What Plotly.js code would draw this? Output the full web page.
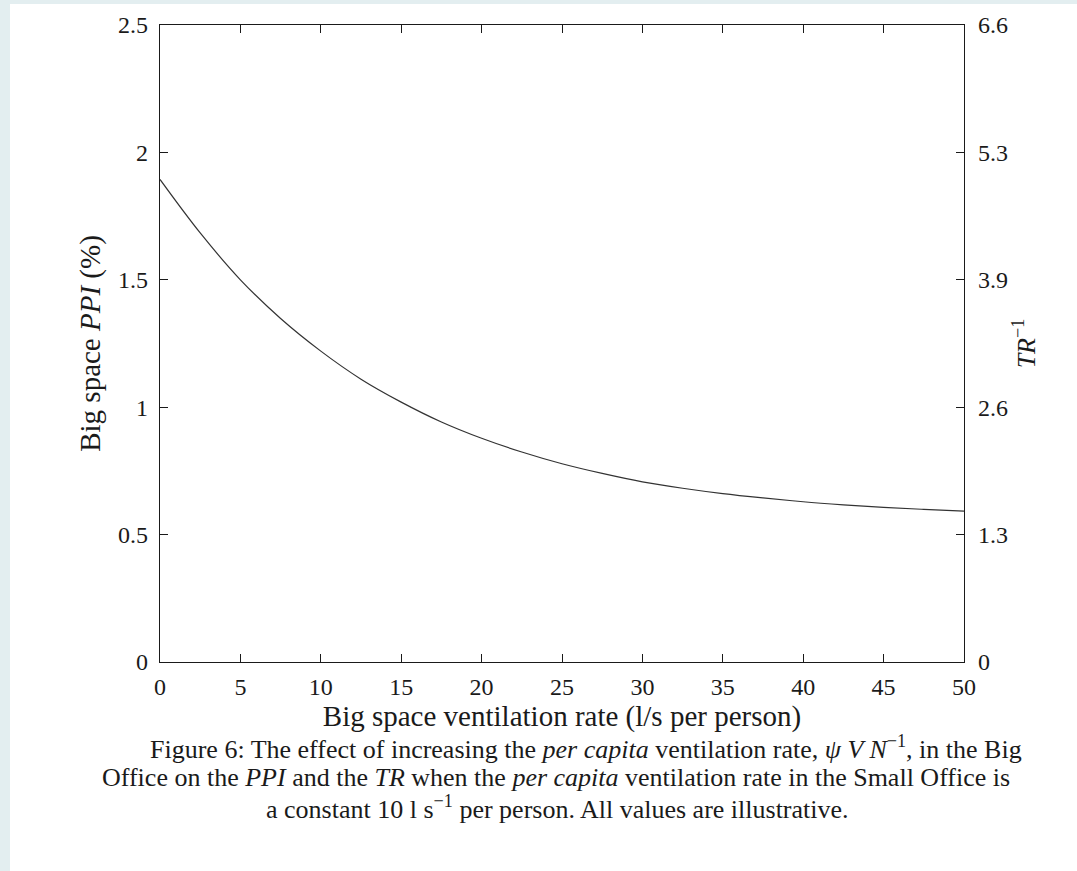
<!DOCTYPE html>
<html>
<head>
<meta charset="utf-8">
<script src="https://cdn.plot.ly/plotly-3.0.1.min.js"></script>
<style>
  html, body { margin: 0; padding: 0; background: #e3eef0; width: 1077px; height: 871px; overflow: hidden; }
  #plot { position: absolute; left: 10px; top: 4px; width: 1067px; height: 867px; background: #ffffff; }
</style>
</head>
<body>
<div id="plot"></div>
<script>
// Big-office ventilation rate (l/s per person)
const ventilation = [0, 2.5, 5, 7.5, 10, 12.5, 15, 17.5, 20, 22.5, 25, 27.5, 30, 32.5, 35, 37.5, 40, 42.5, 45, 47.5, 50];
// Big-space PPI (%)
const ppi = [1.894, 1.684, 1.500, 1.348, 1.220, 1.110, 1.020, 0.942, 0.878, 0.824, 0.778, 0.740, 0.707, 0.682, 0.661, 0.644, 0.629, 0.617, 0.607, 0.599, 0.592];

const xTicks = [0, 5, 10, 15, 20, 25, 30, 35, 40, 45, 50];
const ppiTicks = [0, 0.5, 1, 1.5, 2, 2.5];
// TR^-1 scale on the right: six equal divisions of 0–6.6
const trTickVals = [0, 1.32, 2.64, 3.96, 5.28, 6.6];
const trTickText = ['0', '1.3', '2.6', '3.9', '5.3', '6.6'];

const captionLines = [
  'Figure 6: The effect of increasing the <i>per capita</i> ventilation rate, <i>ψ V N</i><sup>−1</sup>, in the Big',
  'Office on the <i>PPI</i> and the <i>TR</i> when the <i>per capita</i> ventilation rate in the Small Office is',
  'a constant 10 l s<sup>−1</sup> per person. All values are illustrative.'
];

const serif = 'Liberation Serif, DejaVu Serif, serif';
const ink = '#1a1a1a';

const traces = [
  {
    x: ventilation,
    y: ppi,
    type: 'scatter',
    mode: 'lines',
    line: { color: '#333333', width: 1.2, shape: 'spline', smoothing: 1 },
    hoverinfo: 'x+y',
    showlegend: false
  },
  {
    // carries the right-hand TR^-1 axis; nothing plotted
    x: ventilation,
    y: ventilation.map(() => null),
    yaxis: 'y2',
    type: 'scatter',
    mode: 'lines',
    hoverinfo: 'skip',
    showlegend: false
  }
];

const axisBase = {
  ticks: 'inside',
  ticklen: 8,
  tickwidth: 1,
  tickcolor: ink,
  showline: true,
  linecolor: ink,
  linewidth: 1.2,
  showgrid: false,
  zeroline: false,
  tickfont: { family: serif, size: 24, color: ink }
};

// caption line centres, in plot-paper coordinates
const capX = [0.530, 0.4925, 0.495];
const capY = [-0.135, -0.182, -0.229];

const layout = {
  width: 1067,
  height: 867,
  paper_bgcolor: '#ffffff',
  plot_bgcolor: '#ffffff',
  margin: { l: 150, r: 113, t: 21, b: 209 },
  font: { family: serif, size: 24, color: ink },
  showlegend: false,
  xaxis: Object.assign({}, axisBase, {
    range: [0, 50],
    tickvals: xTicks,
    mirror: 'ticks',
    ticklabelstandoff: 3,
    title: { text: 'Big space ventilation rate (l/s per person)', font: { family: serif, size: 29, color: ink }, standoff: 6 }
  }),
  yaxis: Object.assign({}, axisBase, {
    range: [0, 2.5],
    tickvals: ppiTicks,
    ticklabelstandoff: 6,
    title: { text: 'Big space <i>PPI</i> (%)', font: { family: serif, size: 29, color: ink }, standoff: 8 }
  }),
  yaxis2: Object.assign({}, axisBase, {
    overlaying: 'y',
    side: 'right',
    range: [0, 6.6],
    tickvals: trTickVals,
    ticktext: trTickText,
    ticklabelstandoff: 8,
    title: { text: '<i>TR</i><sup>−1</sup>', font: { family: serif, size: 26, color: ink }, standoff: 9 }
  }),
  annotations: captionLines.map((t, i) => ({
    xref: 'paper', yref: 'paper',
    x: capX[i], y: capY[i],
    xanchor: 'center', yanchor: 'middle',
    showarrow: false,
    text: t,
    font: { family: serif, size: 26, color: ink }
  }))
};

Plotly.newPlot('plot', traces, layout, { displayModeBar: false, staticPlot: true });
</script>
</body>
</html>
